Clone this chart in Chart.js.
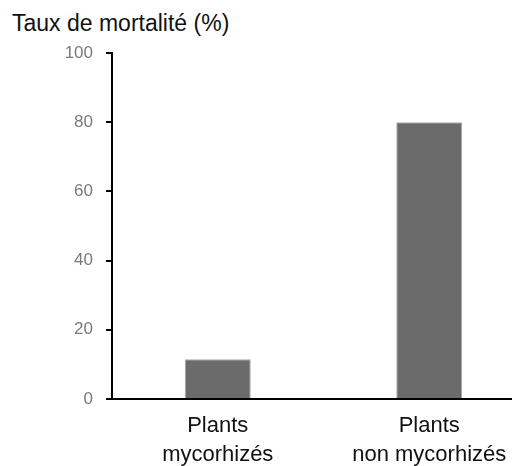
<!DOCTYPE html>
<html>
<head>
<meta charset="utf-8">
<script src="https://cdn.jsdelivr.net/npm/chart.js@4/dist/chart.umd.min.js"></script>
<style>
  html, body { margin: 0; padding: 0; background: #fff; }
  #wrap { position: relative; width: 512px; height: 466px; overflow: hidden; }
  #title { position: absolute; left: 12px; top: 12px; font: 23px "Liberation Sans", Arial, sans-serif; line-height: 23px; color: #111; white-space: nowrap; }
  canvas { position: absolute; left: 0; top: 0; }
</style>
</head>
<body>
<div id="wrap">
  <div id="title">Taux de mortalité (%)</div>
  <canvas id="mortChart" width="540" height="466"></canvas>
</div>
<script>
const categories = [['Plants', 'mycorhizés'], ['Plants', 'non mycorhizés']];
const mortality = [11.5, 80];
const yTicks = [0, 20, 40, 60, 80, 100];

const FONT = '"Liberation Sans", Arial, sans-serif';

new Chart(document.getElementById('mortChart'), {
  type: 'bar',
  data: {
    labels: categories,
    datasets: [{
      data: mortality,
      backgroundColor: '#6b6b6b',
      borderColor: '#a8a8a8',
      borderWidth: 1,
      categoryPercentage: 1,
      barPercentage: 0.312,
    }],
  },
  options: {
    responsive: false,
    animation: false,
    layout: { padding: { top: 53, right: 5, left: 0, bottom: 0 } },
    plugins: { legend: { display: false }, tooltip: { enabled: false } },
    scales: {
      x: {
        grid: { display: false, drawTicks: false },
        border: { display: true, color: '#000', width: 2 },
        ticks: { color: '#111', font: { family: FONT, size: 22, lineHeight: 1.3 }, padding: 13, maxRotation: 0, autoSkip: false },
        afterFit: s => { s.height = 67; },
      },
      y: {
        min: 0,
        max: 100,
        afterBuildTicks: s => { s.ticks = yTicks.map(v => ({ value: v })); },
        grid: { drawOnChartArea: false, drawTicks: true, tickLength: 6, color: '#000', lineWidth: 2 },
        border: { display: true, color: '#000', width: 2 },
        ticks: { color: '#7a7a7a', font: { family: FONT, size: 17 }, padding: 13 },
        afterFit: s => { s.width = 112; },
      },
    },
  },
});
</script>
</body>
</html>
